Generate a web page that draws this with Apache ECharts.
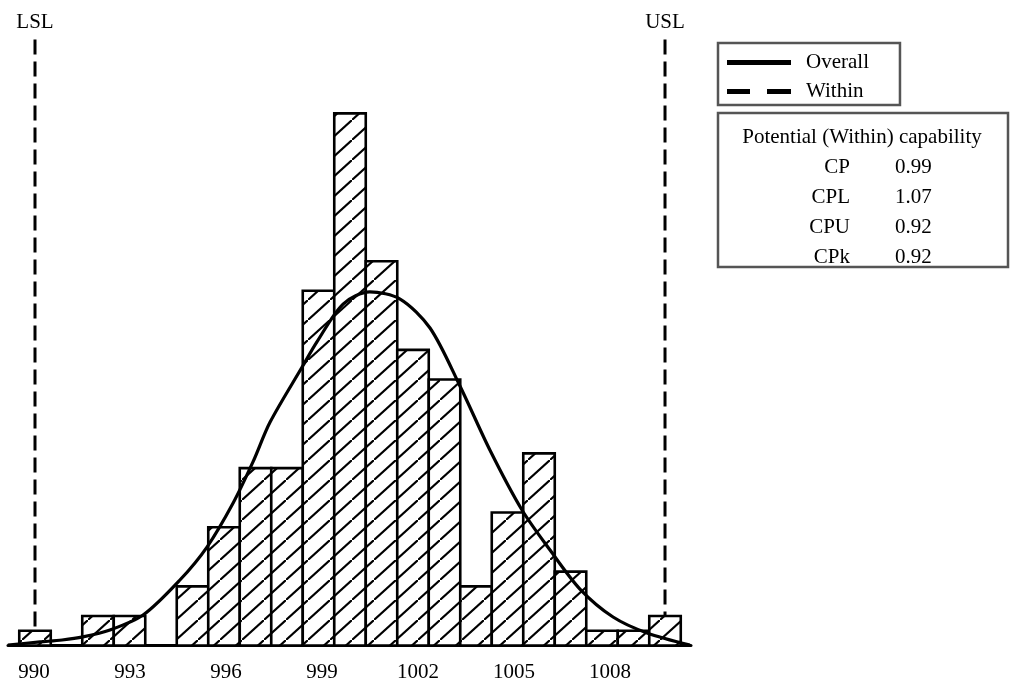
<!DOCTYPE html>
<html><head><meta charset="utf-8">
<script src="https://cdn.jsdelivr.net/npm/echarts@6/dist/echarts.min.js"></script>
<style>html,body{margin:0;padding:0;background:#fff}#c{width:1011px;height:685px}</style>
</head><body><div id="c"></div>
<script>
// ---- data ----
const binCenters = [990,991,992,993,994,995,996,997,998,999,1000,1001,1002,1003,1004,1005,1006,1007,1008,1009,1010];
const binCounts  = [1,0,2,2,0,4,8,12,12,24,36,26,20,18,4,9,13,5,1,1,2];
const tickValues = [990,993,996,999,1002,1005,1008];
const curveX = [989.14,990.16,990.86,991.52,992.38,993.43,994.60,995.46,996.29,996.92,997.46,998.48,998.95,999.78,1000.63,1001.59,1002.54,1003.49,1004.44,1005.46,1006.35,1007.30,1008.35,1009.43,1010.79];
const curveY = [0.03,0.24,0.37,0.58,1.05,2.06,4.43,6.66,9.64,12.42,15.1,18.84,20.54,23.10,23.92,23.44,21.48,17.56,13.23,9.17,6.46,3.82,1.93,0.85,0.03];
const specNames  = ['LSL','USL'];
const specValues = [990,1010];
const legendNames = ['Overall','Within'];
const capTitle  = 'Potential (Within) capability';
const capNames  = ['CP','CPL','CPU','CPk'];
const capValues = ['0.99','1.07','0.92','0.92'];

const FONT = '"Liberation Serif", "Times New Roman", serif';
const FS = 21;
const Y_MAX = 41;

function hatchCanvas(){
  const w = 22, h = 20;
  const c = document.createElement('canvas'); c.width = w; c.height = h;
  const g = c.getContext('2d');
  g.fillStyle = '#fff'; g.fillRect(0,0,w,h);
  g.strokeStyle = '#000'; g.lineWidth = 2.1;
  [[0,0],[-w,h],[w,-h]].forEach(([dx,dy]) => {
    g.beginPath(); g.moveTo(dx, h+dy); g.lineTo(w+dx, dy); g.stroke();
  });
  return c;
}
const hatch = { image: hatchCanvas(), repeat: 'repeat' };
const halfBin = (binCenters[1]-binCenters[0])/2;

const chart = echarts.init(document.getElementById('c'), null, {renderer:'canvas'});

const series = [];
specValues.forEach((v,i) => {
  series.push({
    type:'line', name: specNames[i], xAxisIndex:1, yAxisIndex:0, z:1, silent:true,
    showSymbol:true, symbol:'circle', symbolSize:0.001,
    lineStyle:{color:'#000', width:3, type:[15,7]},
    itemStyle:{color:'#000'},
    data:[
      {value:[v, Y_MAX], label:{show:true, position:'top', distance:7, formatter: specNames[i],
        fontFamily:FONT, fontSize:FS, color:'#000'}},
      {value:[v, 0]}
    ]
  });
});
series.push({
  type:'custom', name:'hist', xAxisIndex:1, yAxisIndex:0, z:2, silent:true,
  data: binCenters.map((c,i)=>[c, binCounts[i]]),
  renderItem(params, api){
    const x = api.value(0), y = api.value(1);
    if (!y) return null;
    const p0 = api.coord([x-halfBin, y]);
    const p1 = api.coord([x+halfBin, 0]);
    return {type:'rect', shape:{x:p0[0], y:p0[1], width:p1[0]-p0[0], height:p1[1]-p0[1]},
      style:{fill:hatch, stroke:'#000', lineWidth:2.6}};
  }
});
series.push({
  type:'line', name: legendNames[0], xAxisIndex:1, yAxisIndex:0, z:5, silent:true,
  smooth:0.3, showSymbol:false, symbol:'none',
  lineStyle:{color:'#000', width:3.2}, itemStyle:{color:'#000'},
  data: curveX.map((x,i)=>[x, curveY[i]])
});
series.push({
  type:'line', name: legendNames[1], xAxisIndex:1, yAxisIndex:0, z:4, silent:true,
  showSymbol:false, symbol:'none',
  lineStyle:{color:'#000', width:3, type:'dashed'}, itemStyle:{color:'#000'},
  data: []
});

const graphic = [
  {type:'rect', shape:{x:718, y:113, width:290, height:154}, style:{fill:'#fff', stroke:'#555', lineWidth:2.5}},
  {type:'text', x:862, y:137, style:{text:capTitle, fontFamily:FONT, fontSize:FS, fill:'#000', align:'center', verticalAlign:'middle'}}
];
capNames.forEach((n,i)=>{
  graphic.push({type:'text', x:850, y:167+30*i, style:{text:n, fontFamily:FONT, fontSize:FS, fill:'#000', align:'right', verticalAlign:'middle'}});
  graphic.push({type:'text', x:895, y:167+30*i, style:{text:capValues[i], fontFamily:FONT, fontSize:FS, fill:'#000', align:'left', verticalAlign:'middle'}});
});

chart.setOption({
  animation:false,
  backgroundColor:'#fff',
  grid:{left:8, right:320, top:39.5, bottom:39.5, outerBoundsMode:'none'},
  xAxis:[
    {type:'value', min:989.1875, max:1010.53125, position:'bottom',
     axisLine:{show:true, onZero:false, lineStyle:{color:'#000', width:3}},
     axisTick:{show:false}, splitLine:{show:false},
     axisLabel:{customValues: tickValues, formatter: v => String(v),
       fontFamily:FONT, fontSize:FS, color:'#000', margin:16}},
    {type:'value', min:989.142857, max:1010.825, show:false}
  ],
  yAxis:{type:'value', min:0, max:Y_MAX, show:false},
  legend:{
    orient:'vertical', left:718, top:43, selectedMode:false,
    padding:[9,31,3,9], itemGap:8, itemWidth:64, itemHeight:5,
    borderColor:'#555', borderWidth:2.5, backgroundColor:'#fff',
    textStyle:{fontFamily:FONT, fontSize:FS, color:'#000', padding:[0,0,0,10]},
    data:[
      {name:legendNames[0], icon:'rect'},
      {name:legendNames[1], icon:'path://M0,0H23V5H0ZM40,0H64V5H40Z'}
    ]
  },
  graphic: graphic,
  series: series
});
</script></body></html>
